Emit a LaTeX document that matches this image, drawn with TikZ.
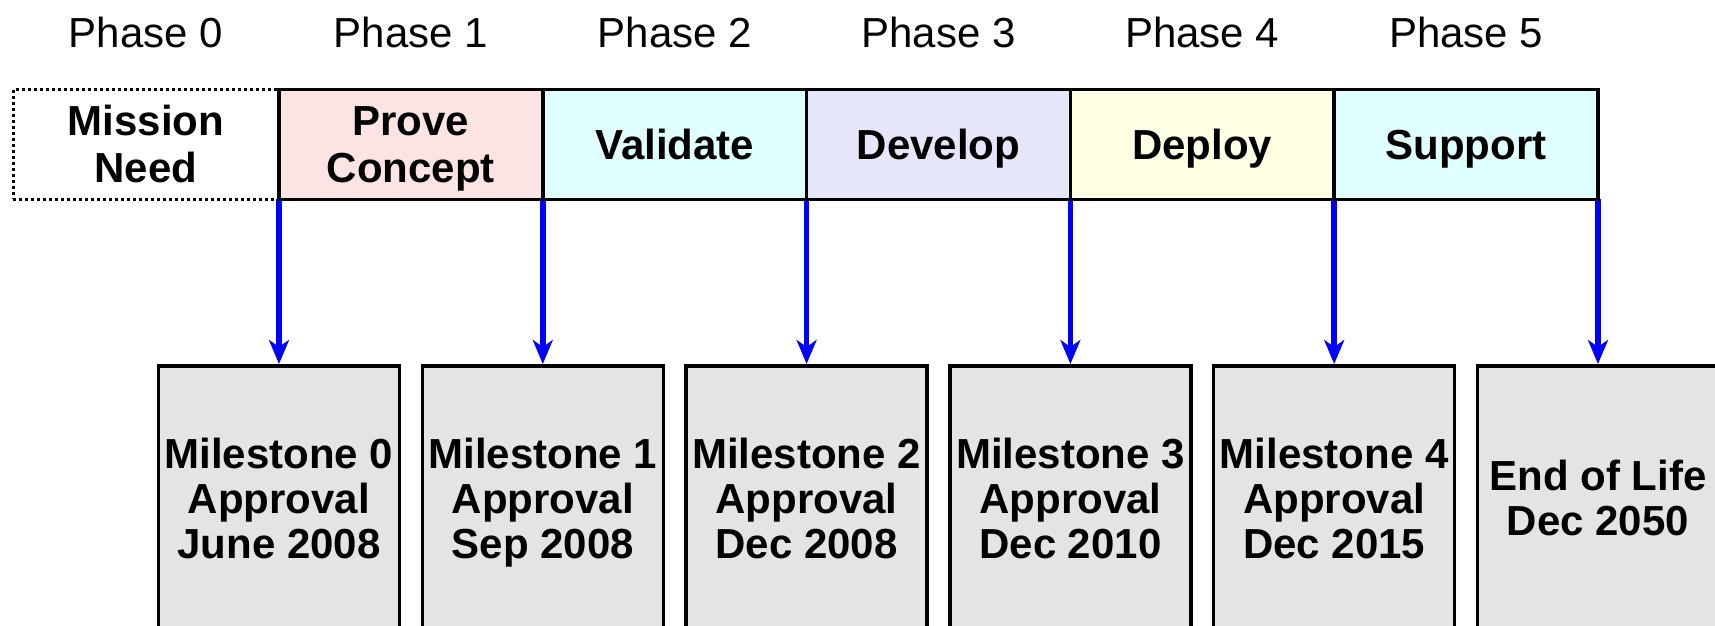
\documentclass[tikz,border=0pt]{standalone}
\usepackage{fontspec}
\setmainfont{Liberation Sans}
\usetikzlibrary{arrows.meta, positioning, backgrounds}

\definecolor{proveFill}{RGB}{253,228,228}
\definecolor{validFill}{RGB}{224,255,255}
\definecolor{develFill}{RGB}{230,230,250}
\definecolor{deployFill}{RGB}{255,255,228}
\definecolor{mileFill}{RGB}{228,228,228}
\definecolor{gateBlue}{RGB}{0,0,255}

\begin{document}
\begin{tikzpicture}[
            x=0.5pt, y=-0.5pt,
            % text box = cap height of first line down to a fixed depth under the last one
            phase/.style={
                draw, line width=1.75pt, outer sep=0pt, inner sep=0pt,
                minimum width=131.9pt, minimum height=55pt, align=center,
                text height=#1, text depth=4.5pt,
                font=\bfseries\fontsize{21}{23.5}\selectfont
            },
            phase/.default=19.5pt,
            phaselabel/.style={inner sep=0pt, font=\fontsize{21}{23}\selectfont},
            milestone/.style={
                draw, fill=mileFill, line width=1.75pt, anchor=north, inner sep=0pt,
                minimum width=120.5pt, minimum height=132.5pt, align=center,
                text height=#1, text depth=4.5pt,
                font=\bfseries\fontsize{21}{22.5}\selectfont
            },
            milestone/.default=64.5pt,
            gate/.style={
                draw=gateBlue, line width=2.75pt,
                -{Stealth[length=12pt, width=10pt, inset=3.5pt]}
            }
        ]
        \useasboundingbox (0,0) rectangle (1715,626);
        \clip (0,0) rectangle (1715,626);

        % phase bar
        \node[phase=43pt, minimum width=133pt, line width=1.5pt, dash pattern=on 1.5pt off 1.5pt,
            anchor=north west] (p0) at (13,89.5) {Mission\\Need};
        \node[phase=43pt, fill=proveFill, right=0pt of p0] (p1) {Prove\\Concept};
        \node[phase, fill=validFill, right=0pt of p1] (p2) {Validate};
        \node[phase, fill=develFill, right=0pt of p2] (p3) {Develop};
        \node[phase, fill=deployFill, right=0pt of p3] (p4) {Deploy};
        \node[phase, fill=validFill, right=0pt of p4] (p5) {Support};

        \foreach \i in {0,...,5}
            \node[phaselabel, above=20.5pt of p\i] (l\i) {Phase \i};

        % milestones
        \coordinate (mtop) at (0,364);
        \node[milestone] (m0) at (p1.south west |- mtop) {Milestone 0\\Approval\\June 2008};
        \node[milestone] (m1) at (p2.south west |- mtop) {Milestone 1\\Approval\\Sep 2008};
        \node[milestone] (m2) at (p3.south west |- mtop) {Milestone 2\\Approval\\Dec 2008};
        \node[milestone] (m3) at (p4.south west |- mtop) {Milestone 3\\Approval\\Dec 2010};
        \node[milestone] (m4) at (p5.south west |- mtop) {Milestone 4\\Approval\\Dec 2015};
        \node[milestone=42pt] (m5) at (p5.south east |- mtop) {End of Life\\Dec 2050};

        \begin{scope}[on background layer]
            \foreach \i/\j in {1/0, 2/1, 3/2, 4/3, 5/4}
                \draw[gate] (p\i.south west) -- (m\j.north);
            \draw[gate] (p5.south east) -- (m5.north);
        \end{scope}
    \end{tikzpicture}
\end{document}
